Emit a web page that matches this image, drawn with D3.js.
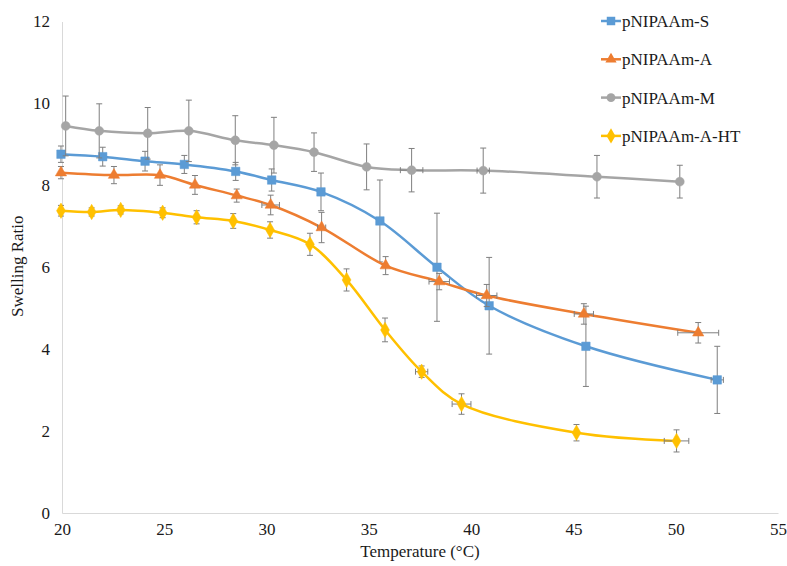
<!DOCTYPE html>
<html>
<head>
<meta charset="utf-8">
<script src="https://cdn.jsdelivr.net/npm/d3@7"></script>
<style>
  html, body { margin: 0; padding: 0; background: #fff; }
</style>
</head>
<body>
<svg id="chart" width="787" height="566"></svg>
<script>
// Swelling ratio vs. temperature for four hydrogel formulations
const seriesNames = ["pNIPAAm-S", "pNIPAAm-A", "pNIPAAm-M", "pNIPAAm-A-HT"];
const seriesColors = ["#5B9BD5", "#ED7D31", "#A5A5A5", "#FFC000"];
const seriesShapes = ["square", "triangle", "circle", "diamond"];

// pNIPAAm-S
const tempS  = [19.95, 21.99, 24.06, 25.98, 28.49, 30.25, 32.66, 35.54, 38.33, 40.88, 45.61, 52.03];
const ratioS = [8.76, 8.70, 8.59, 8.51, 8.34, 8.13, 7.84, 7.13, 6.00, 5.06, 4.07, 3.25];
const errS   = [0.20, 0.23, 0.24, 0.22, 0.22, 0.27, 0.46, 1.00, 1.32, 1.18, 0.98, 0.82];
const xErrS  = [0, 0, 0, 0, 0, 0, 0, 0, 0, 0, 0, 0.30];

// pNIPAAm-A
const tempA  = [19.95, 22.54, 24.79, 26.50, 28.54, 30.20, 32.69, 35.82, 38.44, 40.76, 45.51, 51.10];
const ratioA = [8.31, 8.25, 8.25, 8.01, 7.75, 7.52, 6.97, 6.04, 5.65, 5.31, 4.86, 4.40];
const errA   = [0.15, 0.21, 0.25, 0.23, 0.16, 0.24, 0.37, 0.22, 0.20, 0.27, 0.25, 0.25];
const xErrA  = [0, 0, 0, 0, 0, 0.43, 0.20, 0, 0.50, 0.50, 0.47, 1.00];

// pNIPAAm-M
const tempM  = [20.18, 21.82, 24.19, 26.20, 28.47, 30.36, 32.32, 34.89, 37.09, 40.59, 46.15, 50.20];
const ratioM = [9.45, 9.33, 9.27, 9.33, 9.10, 8.98, 8.81, 8.45, 8.37, 8.36, 8.21, 8.09];
const errM   = [0.73, 0.66, 0.63, 0.75, 0.60, 0.68, 0.47, 0.56, 0.53, 0.55, 0.52, 0.40];
const xErrM  = [0, 0, 0, 0, 0, 0, 0, 0, 0.55, 0.30, 0, 0];

// pNIPAAm-A-HT
const tempHT  = [19.95, 21.45, 22.87, 24.92, 26.58, 28.37, 30.17, 32.12, 33.91, 35.79, 37.58, 39.53, 45.15, 50.04];
const ratioHT = [7.38, 7.35, 7.40, 7.33, 7.22, 7.13, 6.91, 6.56, 5.69, 4.47, 3.45, 2.66, 1.96, 1.76];
const errHT   = [0.13, 0.10, 0.10, 0.12, 0.16, 0.18, 0.20, 0.27, 0.27, 0.29, 0.14, 0.25, 0.20, 0.27];
const xErrHT  = [0, 0, 0, 0, 0, 0, 0, 0, 0, 0, 0.30, 0.46, 0, 0.60];

const xTicks = [20, 25, 30, 35, 40, 45, 50, 55];
const yTicks = [0, 2, 4, 6, 8, 10, 12];

const FONT = "Liberation Serif";

const seriesData = [
  [tempS, ratioS, errS, xErrS],
  [tempA, ratioA, errA, xErrA],
  [tempM, ratioM, errM, xErrM],
  [tempHT, ratioHT, errHT, xErrHT]
].map(([xs, ys, es, xes], i) => ({
  name: seriesNames[i],
  color: seriesColors[i],
  shape: seriesShapes[i],
  points: xs.map((x, j) => ({ x, y: ys[j], e: es[j], xe: xes[j] }))
}));

const svg = d3.select("#chart");
const margin = { left: 62, right: 9, top: 21.5, bottom: 53 };
const W = 787, H = 566;

const x = d3.scaleLinear().domain([20, 55]).range([margin.left, W - margin.right]);
const y = d3.scaleLinear().domain([0, 12]).range([H - margin.bottom, margin.top]);

// Axes (light lines, no tick marks)
const xAxis = svg.append("g")
  .attr("transform", `translate(0,${y(0)})`)
  .call(d3.axisBottom(x).tickValues(xTicks).tickSize(0).tickPadding(10).tickFormat(d3.format("d")));
const yAxis = svg.append("g")
  .attr("transform", `translate(${x(20)},0)`)
  .call(d3.axisLeft(y).tickValues(yTicks).tickSize(0).tickPadding(12).tickFormat(d3.format("d")));
[xAxis, yAxis].forEach(g => {
  g.attr("font-family", null).attr("font-size", null);
  g.select(".domain").attr("stroke", "#d9d9d9").attr("stroke-width", 1);
  g.selectAll("text").attr("fill", "#1a1a1a").attr("font-family", FONT).attr("font-size", 17);
});

// Axis titles
svg.append("text")
  .attr("x", (x(20) + x(55)) / 2).attr("y", 557)
  .attr("text-anchor", "middle").attr("font-size", 17).attr("fill", "#1a1a1a")
  .attr("font-family", FONT)
  .text("Temperature (°C)");
svg.append("text")
  .attr("transform", `translate(23,${(y(0) + y(12)) / 2 - 1}) rotate(-90)`)
  .attr("text-anchor", "middle").attr("font-size", 17).attr("fill", "#1a1a1a")
  .attr("font-family", FONT)
  .text("Swelling Ratio");

const line = d3.line().x(d => x(d.x)).y(d => y(d.y)).curve(d3.curveCatmullRom.alpha(0.5));

function symbolPath(shape) {
  const t = { square: d3.symbolSquare, triangle: d3.symbolTriangle, circle: d3.symbolCircle, diamond: d3.symbolDiamond }[shape];
  const size = { square: 72, triangle: 55, circle: 62, diamond: 68 }[shape];
  return d3.symbol().type(t).size(size)();
}

const plot = svg.append("g");
seriesData.forEach(s => {
  const g = plot.append("g");
  g.append("path").datum(s.points)
    .attr("fill", "none").attr("stroke", s.color).attr("stroke-width", 2.5)
    .attr("d", line);

  const errColor = "#7f7f7f";
  const cap = 3;
  const eb = g.append("g").attr("stroke", errColor).attr("stroke-width", 1).attr("fill", "none");
  s.points.forEach(p => {
    const cx = x(p.x), cy = y(p.y);
    if (p.e > 0) {
      const y1 = y(p.y + p.e), y2 = y(p.y - p.e);
      eb.append("line").attr("x1", cx).attr("x2", cx).attr("y1", y1).attr("y2", y2);
      eb.append("line").attr("x1", cx - cap).attr("x2", cx + cap).attr("y1", y1).attr("y2", y1);
      eb.append("line").attr("x1", cx - cap).attr("x2", cx + cap).attr("y1", y2).attr("y2", y2);
    }
    if (p.xe > 0) {
      const x1 = x(p.x - p.xe), x2 = x(p.x + p.xe);
      eb.append("line").attr("x1", x1).attr("x2", x2).attr("y1", cy).attr("y2", cy);
      eb.append("line").attr("x1", x1).attr("x2", x1).attr("y1", cy - cap).attr("y2", cy + cap);
      eb.append("line").attr("x1", x2).attr("x2", x2).attr("y1", cy - cap).attr("y2", cy + cap);
    }
  });

  g.selectAll("path.marker").data(s.points).join("path")
    .attr("class", "marker")
    .attr("transform", d => `translate(${x(d.x)},${y(d.y)})`)
    .attr("d", symbolPath(s.shape))
    .attr("fill", s.color).attr("stroke", s.color).attr("stroke-width", 0.5);
});

// Legend
const legend = svg.append("g");
seriesData.forEach((s, i) => {
  const ly = 21 + i * 38.3;
  const lg = legend.append("g").attr("transform", `translate(601,${ly})`);
  lg.append("line").attr("x1", 0).attr("x2", 20).attr("y1", 0).attr("y2", 0)
    .attr("stroke", s.color).attr("stroke-width", 2.5);
  lg.append("path").attr("transform", "translate(10,0)")
    .attr("d", symbolPath(s.shape)).attr("fill", s.color);
  lg.append("text").attr("x", 21).attr("y", 0).attr("dy", "0.35em")
    .attr("font-family", FONT)
    .attr("font-size", 17).attr("fill", "#1a1a1a").text(s.name);
});
</script>
</body>
</html>
